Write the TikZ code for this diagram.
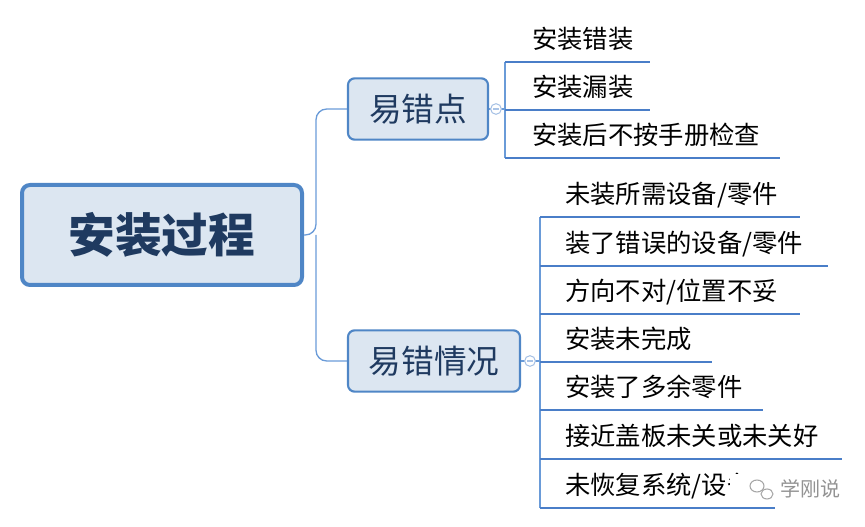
\documentclass[tikz,border=0pt]{standalone}
\usepackage{fontspec}
\setmainfont{Noto Sans CJK SC}
\begin{document}
\begin{tikzpicture}[x=0.75pt,y=-0.75pt,
  rootbox/.style={draw=boxblue,line width=3pt,fill=boxfill,rounded corners=6pt,minimum width=210pt,minimum height=75pt,font=\fontsize{35}{37}\selectfont\bfseries,text=darkblue},
  branchbox/.style={draw=boxblue,line width=1.6pt,fill=boxfill,rounded corners=5pt,minimum height=46pt,font=\fontsize{24.5}{26}\selectfont,text=darkblue},
  leaf/.style={anchor=base west,font=\fontsize{19}{21}\selectfont,inner sep=0pt},
  uline/.style={draw=lineblue,line width=2.2pt},
  conn/.style={draw=connblue,line width=1pt,rounded corners=8pt},
  tog/.style={draw=togblue,fill=white,line width=0.8pt,circle,inner sep=0pt,minimum size=8pt}]
\definecolor{boxblue}{HTML}{4F86C6}
\definecolor{boxfill}{HTML}{DCE6F1}
\definecolor{darkblue}{HTML}{1F3A60}
\definecolor{lineblue}{HTML}{4A7EC8}
\definecolor{connblue}{HTML}{6A9BD8}
\definecolor{togblue}{HTML}{A9C3E6}
\useasboundingbox (0,0) rectangle (865,527);
\node[rootbox] (root) at (162,235) {安装过程};
\node[branchbox,minimum width=105pt] (b1) at (418,109) {易错点};
\node[branchbox,minimum width=129pt] (b2) at (434,361) {易错情况};
\coordinate (j) at (316,235);
\draw[conn] (root.east) -- (j) |- (b1.west);
\draw[conn] (j) |- (b2.west);
% group 1
\draw[conn,rounded corners=0pt] (b1.east) -- (505,109);
\draw[conn,rounded corners=0pt] (505,62) -- (505,158);
\foreach \y/\x/\t/\n in {62/650/{安装错装}/a1,110/650/{安装漏装}/a2,158/780/{安装后不按手册检查}/a3}{
  \draw[uline] (505,\y) -- (\x,\y);
  \node[leaf] (\n) at (532,\y-13) {\t};
}
\node[tog] (t1) at (496,109) {};
\draw[togblue,line width=0.8pt] (493,109) -- (499,109);
% group 2
\draw[conn,rounded corners=0pt] (b2.east) -- (540,361);
\draw[conn,rounded corners=0pt] (540,217) -- (540,508);
\foreach \y/\x/\t/\n in {217/800/{未装所需设备/零件}/c1,266/828/{装了错误的设备/零件}/c2,314/800/{方向不对/位置不妥}/c3,362/712/{安装未完成}/c4,410/763/{安装了多余零件}/c5,459/842/{接近盖板未关或未关好}/c6,508/775/{未恢复系统/设备}/c7}{
  \draw[uline] (540,\y) -- (\x,\y);
  \node[leaf] (\n) at (565,\y-13) {\t};
}
\node[tog] (t2) at (530,361) {};
\draw[togblue,line width=0.8pt] (527,361) -- (533,361);
% watermark
\node[fill=white,inner sep=0pt,minimum width=100pt,minimum height=22pt,anchor=west] (wm) at (730,489) {};
\node[font=\fontsize{15}{16}\selectfont,text=gray!85] (wmt) at (810,489) {学刚说};
\draw[gray!70,line width=0.8pt] (757,486) ellipse (7 and 6);
\draw[gray!70,line width=0.8pt] (767,494) ellipse (6 and 5);
\end{tikzpicture}
\end{document}
